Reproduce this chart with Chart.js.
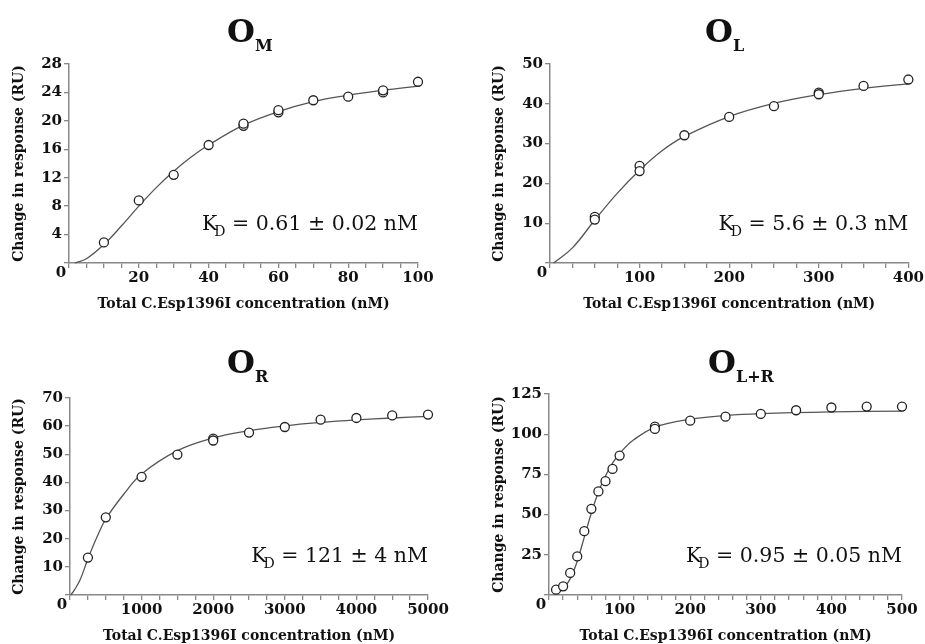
<!DOCTYPE html>
<html>
<head>
<meta charset="utf-8">
<script src="https://cdn.jsdelivr.net/npm/chart.js@4"></script>
<style>
  body { margin: 0; background: #fff; }
  #wrap { position: relative; width: 925px; height: 644px; overflow: hidden; }
  canvas { position: absolute; }
</style>
</head>
<body>
<div id="wrap">
  <canvas id="c1" width="462" height="322" style="left:0;top:0"></canvas>
  <canvas id="c2" width="463" height="322" style="left:462px;top:0"></canvas>
  <canvas id="c3" width="462" height="322" style="left:0;top:322px"></canvas>
  <canvas id="c4" width="463" height="322" style="left:462px;top:322px"></canvas>
</div>
<script>
// O_M
const omX = [10, 20, 30, 40, 50, 50, 60, 60, 70, 80, 90, 90, 100];
const omY = [2.9, 8.8, 12.4, 16.6, 19.3, 19.6, 21.2, 21.5, 22.9, 23.4, 24.0, 24.3, 25.5];
const omFitX = [1.7, 5, 10, 15, 20, 25, 30, 35, 40, 50, 60, 70, 80, 90, 100];
const omFitY = [0, 0.6, 2.6, 5.2, 8.0, 10.6, 12.9, 14.9, 16.6, 19.4, 21.3, 22.7, 23.6, 24.3, 24.9];

// O_L
const olX = [50, 50, 100, 100, 150, 200, 250, 300, 300, 350, 400];
const olY = [11.6, 10.9, 24.4, 23.1, 32.1, 36.7, 39.4, 42.8, 42.4, 44.5, 46.1];
const olFitX = [4, 25, 50, 75, 100, 125, 150, 200, 250, 300, 350, 400];
const olFitY = [0, 3.8, 10.8, 17.5, 23.3, 28.2, 31.8, 36.8, 40.1, 42.3, 43.9, 45.0];

// O_R
const orX = [250, 500, 1000, 1500, 2000, 2000, 2500, 3000, 3500, 4000, 4500, 5000];
const orY = [13.3, 27.6, 42.0, 49.9, 55.6, 54.9, 57.7, 59.7, 62.3, 62.9, 63.8, 64.1];
const orFitX = [10, 60, 140, 250, 375, 500, 750, 1000, 1500, 2000, 2500, 3000, 3500, 4000, 4500, 5000];
const orFitY = [0, 1.7, 5.3, 12.8, 20.5, 27, 35.8, 43.0, 51.3, 55.8, 58.4, 60.1, 61.3, 62.2, 62.9, 63.5];

// O_L+R
const olrX = [10, 20, 30, 40, 50, 60, 70, 80, 90, 100, 150, 150, 200, 250, 300, 350, 400, 450, 500];
const olrY = [3.3, 5.4, 13.7, 24, 39.7, 53.6, 64.4, 70.8, 78.4, 86.7, 104.7, 103.3, 108.4, 110.9, 112.6, 114.9, 116.6, 117.2, 117.2];
const olrFitX = [8, 20, 30, 40, 50, 60, 70, 80, 90, 100, 120, 150, 200, 250, 300, 400, 500];
const olrFitY = [0.5, 4, 10, 21, 36, 51, 64, 74, 82, 88, 96.5, 104.3, 109.3, 111.6, 112.8, 113.9, 114.4];

const xTitle = 'Total C.Esp1396I concentration (nM)';
const yTitle = 'Change in response (RU)';

Chart.defaults.font.family = '"DejaVu Serif", serif';
Chart.defaults.color = '#111';

const toPts = (xs, ys) => xs.map((x, i) => ({ x: x, y: ys[i] }));

// draws panel title, K_D note and the shared "0" at the corner
const panelText = {
    id: 'panelText',
    afterDraw(chart, args, o) {
        const { ctx, chartArea } = chart;
        ctx.save();
        ctx.fillStyle = '#111';
        ctx.textBaseline = 'alphabetic';
        ctx.textAlign = 'left';
        ctx.font = 'bold 32px "DejaVu Serif"';
        ctx.fillText('O', o.titleX, o.titleY);
        const ow = ctx.measureText('O').width;
        ctx.font = 'bold 16px "DejaVu Serif"';
        ctx.fillText(o.sub, o.titleX + ow, o.titleY + 9);

        // K_D = ...
        const big = '20.5px "DejaVu Serif"', small = '14px "DejaVu Serif"';
        ctx.font = big;
        const kw = ctx.measureText('K').width;
        const rest = ' = ' + o.kd;
        const rw = ctx.measureText(rest).width;
        ctx.font = small;
        const dw = ctx.measureText('D').width;
        const total = kw - 3 + dw + rw;
        const x = chartArea.right - total;
        const base = chartArea.bottom - 33;
        ctx.font = big;
        ctx.fillText('K', x, base);
        ctx.font = small;
        ctx.fillText('D', x + kw - 3, base + 6);
        ctx.font = big;
        ctx.fillText(rest, x + kw - 3 + dw, base);

        ctx.font = 'bold 15px "DejaVu Serif"';
        ctx.textAlign = 'center';
        ctx.textBaseline = 'middle';
        ctx.fillText('0', chartArea.left - 8, chartArea.bottom + 10);
        ctx.restore();
    }
};

function makePanel(id, p) {
    const canvas = document.getElementById(id);
    const W = canvas.width, H = canvas.height;
    return new Chart(canvas.getContext('2d'), {
        type: 'scatter',
        data: {
            datasets: [
                {
                    data: toPts(p.xs, p.ys),
                    pointRadius: 4.5,
                    pointBorderWidth: 1.3,
                    pointBorderColor: '#222',
                    pointBackgroundColor: '#fff',
                    clip: false
                },
                {
                    data: toPts(p.fitX, p.fitY),
                    showLine: true,
                    pointRadius: 0,
                    borderColor: '#555',
                    borderWidth: 1.3,
                    tension: 0.4,
                    clip: false
                }
            ]
        },
        options: {
            responsive: false,
            animation: false,
            devicePixelRatio: 1,
            layout: { padding: { left: 0, top: p.area.top, right: W - p.area.right, bottom: 0 } },
            plugins: {
                legend: { display: false },
                tooltip: { enabled: false },
                panelText: { titleX: p.titleX, titleY: p.titleY, sub: p.sub, kd: p.kd }
            },
            scales: {
                x: {
                    type: 'linear',
                    min: 0,
                    max: p.xMax,
                    afterFit: s => { s.height = H - p.area.bottom; },
                    afterBuildTicks: s => {
                        s.ticks = [];
                        for (let v = 0; v <= p.xMax; v += p.xMinor) s.ticks.push({ value: v });
                    },
                    ticks: {
                        autoSkip: false,
                        maxRotation: 0,
                        padding: 1,
                        font: { size: 15, weight: 'bold' },
                        callback: v => (v !== 0 && v % p.xLabel === 0) ? String(v) : ''
                    },
                    grid: { drawOnChartArea: false, drawTicks: true, tickLength: 5, color: '#888', lineWidth: 1.3 },
                    border: { display: true, color: '#888', width: 1.5 },
                    title: { display: true, text: xTitle, font: { size: 14, weight: 'bold', lineHeight: 1.2 }, padding: { top: 0, bottom: p.xTitlePad } }
                },
                y: {
                    min: 0,
                    max: p.yMax,
                    afterFit: s => { s.width = p.area.left; },
                    ticks: {
                        stepSize: p.yStep,
                        padding: 2,
                        font: { size: 15, weight: 'bold' },
                        callback: v => v === 0 ? '' : String(v)
                    },
                    grid: { drawOnChartArea: false, drawTicks: true, tickLength: 5, color: '#888', lineWidth: 1.3 },
                    border: { display: true, color: '#888', width: 1.5 },
                    title: { display: true, text: yTitle, font: { size: 14, weight: 'bold', lineHeight: 1.2 }, padding: { top: p.yTitlePad, bottom: 0 } }
                }
            }
        },
        plugins: [panelText]
    });
}

makePanel('c1', {
    xs: omX, ys: omY, fitX: omFitX, fitY: omFitY,
    area: { left: 69, right: 418, top: 64, bottom: 263 },
    xMax: 100, xMinor: 5, xLabel: 20, yMax: 28, yStep: 4,
    titleX: 227, titleY: 42, sub: 'M', kd: '0.61 ± 0.02 nM',
    xTitlePad: 9, yTitlePad: 11
});
makePanel('c2', {
    xs: olX, ys: olY, fitX: olFitX, fitY: olFitY,
    area: { left: 88, right: 447, top: 64, bottom: 263 },
    xMax: 400, xMinor: 25, xLabel: 100, yMax: 50, yStep: 10,
    titleX: 243, titleY: 42, sub: 'L', kd: '5.6 ± 0.3 nM',
    xTitlePad: 9, yTitlePad: 29
});
makePanel('c3', {
    xs: orX, ys: orY, fitX: orFitX, fitY: orFitY,
    area: { left: 70, right: 428, top: 76, bottom: 273 },
    xMax: 5000, xMinor: 250, xLabel: 1000, yMax: 70, yStep: 10,
    titleX: 227, titleY: 51, sub: 'R', kd: '121 ± 4 nM',
    xTitlePad: -1, yTitlePad: 11
});
makePanel('c4', {
    xs: olrX, ys: olrY, fitX: olrFitX, fitY: olrFitY,
    area: { left: 87, right: 440, top: 72, bottom: 273 },
    xMax: 500, xMinor: 20, xLabel: 100, yMax: 125, yStep: 25,
    titleX: 246, titleY: 51, sub: 'L+R', kd: '0.95 ± 0.05 nM',
    xTitlePad: -1, yTitlePad: 29
});
</script>
</body>
</html>
